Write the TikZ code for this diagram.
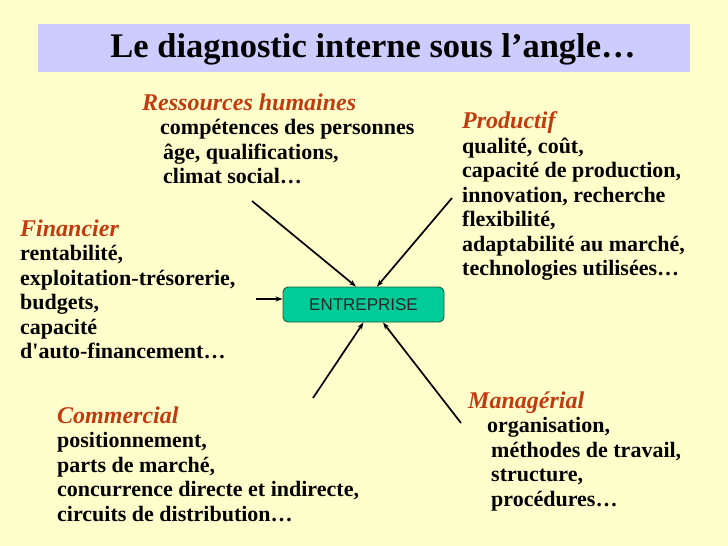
\documentclass[tikz,border=0pt]{standalone}
\usepackage{fontspec}
\setmainfont{Liberation Serif}
\newfontfamily\arialf{Liberation Sans}
\usetikzlibrary{arrows.meta}
\definecolor{bgcol}{HTML}{FFFFCC}
\definecolor{barcol}{HTML}{CCCCFF}
\definecolor{hdcol}{HTML}{C23A10}
\definecolor{boxcol}{HTML}{00CC99}
\definecolor{boxline}{HTML}{1A5C3C}
\newcommand{\hd}[1]{{\color{hdcol}\fontsize{24}{24.5}\selectfont\bfseries\itshape #1}}
\begin{document}
\begin{tikzpicture}[x=1pt,y=-1pt,
  blk/.style={anchor=north west,inner sep=0pt,align=left,
    font=\fontsize{22}{24.5}\selectfont\bfseries},
  entbox/.style={draw=boxline,line width=.9pt,fill=boxcol,rounded corners=5pt,
    minimum width=161pt,minimum height=35pt,inner sep=0pt,
    font=\arialf\fontsize{17}{20}\selectfont,text=black!85},
  arr/.style={line width=1.7pt,-{Stealth[length=7pt,width=5pt]}}]
  \useasboundingbox (0,0) rectangle (728,546);
  \fill[bgcol] (0,0) rectangle (728,546);
  \fill[barcol] (38,24) rectangle (690,72);
  \node[inner sep=0pt,font=\fontsize{34.5}{36}\selectfont\bfseries] (titre) at (373,49) {Le diagnostic interne sous l’angle…};
  \node[entbox] (ent) at (363.5,304.5) {ENTREPRISE};
  \node[blk] (rh) at (142,93.5) {\hd{Ressources humaines}\\
    \hspace{18pt}compétences des personnes\\
    \hspace{21pt}âge, qualifications,\\
    \hspace{21pt}climat social…};
  \node[blk] (prod) at (462,111.5) {\hd{Productif}\\ qualité, coût,\\ capacité de production,\\
    innovation, recherche\\ flexibilité,\\ adaptabilité au marché,\\ technologies utilisées…};
  \node[blk] (fin) at (20,219.5) {\hd{Financier}\\ rentabilité,\\ exploitation-trésorerie,\\
    budgets,\\ capacité\\ d\textquotesingle auto-financement…};
  \node[blk] (com) at (57,406.5) {\hd{Commercial}\\ positionnement,\\ parts de marché,\\
    concurrence directe et indirecte,\\ circuits de distribution…};
  \node[blk] (man) at (468,391.5) {\hd{Managérial}\\
    \hspace{19pt}organisation,\\
    \hspace{23pt}méthodes de travail,\\
    \hspace{23pt}structure,\\
    \hspace{23pt}procédures…};
  \coordinate (rhq) at (252,201);
  \coordinate (prodq) at (452,198);
  \coordinate (finq) at (256,299);
  \coordinate (comq) at (313,398);
  \coordinate (manq) at (461,423);
  \draw[arr] (rhq) -- ([xshift=-7.5pt]ent.north);
  \draw[arr] (prodq) -- ([xshift=13.5pt]ent.north);
  \draw[arr] (finq) -- ([yshift=5.5pt]ent.west);
  \draw[arr] (comq) -- (ent.south);
  \draw[arr] (manq) -- ([xshift=19.5pt]ent.south);
\end{tikzpicture}
\end{document}
